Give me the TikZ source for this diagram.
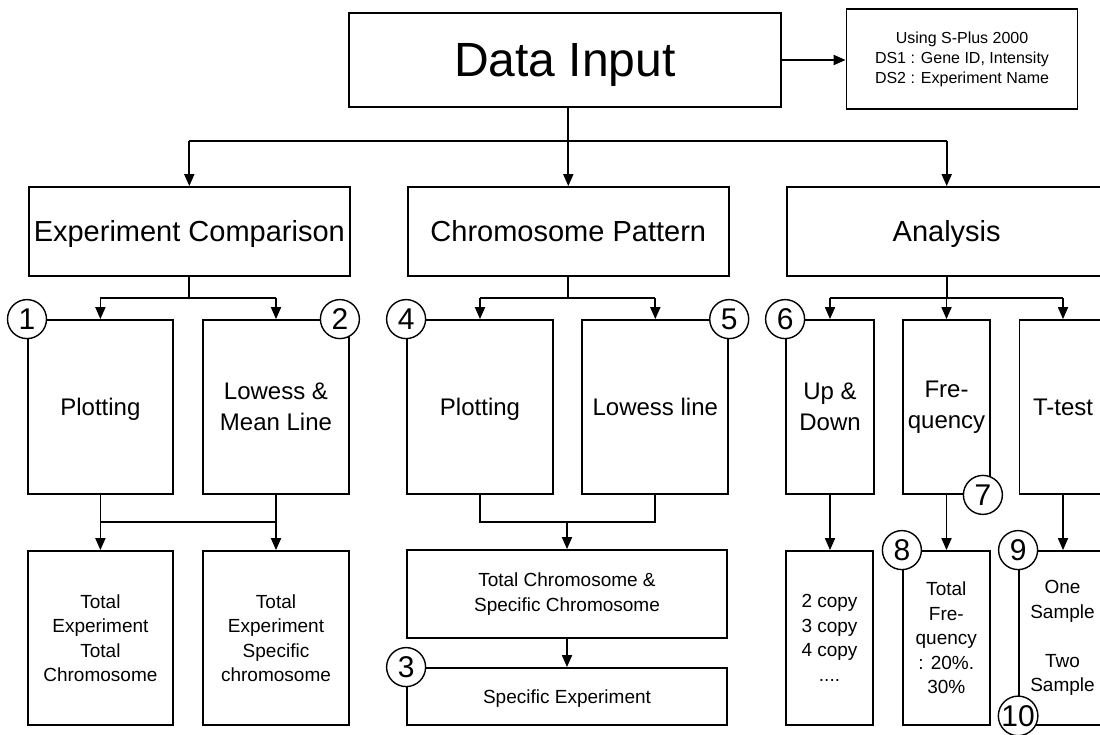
\documentclass[tikz,border=0pt]{standalone}
\usepackage{fontspec}
\setmainfont{Liberation Sans}
\usetikzlibrary{arrows.meta}

\begin{document}
\begin{tikzpicture}[x=1pt, y=-1pt, >={Triangle[width=10pt,length=12pt]}, line width=1.8pt,
	plainbox/.style={draw, rectangle, inner sep=0pt, align=center},
	titlebox/.style={plainbox, text height=34pt, text depth=0pt, font=\fontsize{48}{54}\selectfont},
	headbox/.style={plainbox, minimum height=89pt, text height=21pt, text depth=0pt, font=\fontsize{29}{33}\selectfont},
	tallbox/.style={plainbox, minimum height=174pt, font=\fontsize{24}{31}\selectfont},
	lowbox/.style={plainbox, font=\fontsize{19}{24.5}\selectfont},
	oneline/.style={text height=0.72*\pgfkeysvalueof{/tikz/linesize}, text depth=0pt},
	linesize/.initial=24pt,
	badge/.style={draw, circle, fill=white, inner sep=0pt, minimum size=39pt, line width=1.4pt, font=\fontsize{30}{33}\selectfont}]
	\useasboundingbox (0,0) rectangle (1100,735);
	\clip (0,0) rectangle (1100,735);

	% top row
	\node[titlebox, minimum width=432pt, minimum height=94pt] (din) at (565,60) {Data Input};
	\node[plainbox, minimum width=231pt, minimum height=100pt, font=\fontsize{16}{20}\selectfont] (info) at (962,59) {Using S-Plus 2000\\DS1 : Gene ID, Intensity\\DS2 : Experiment Name};
	\draw[->] (din.east) -- (din.east -| info.west);

	% three branches
	\node[headbox, minimum width=321pt] (ec) at (189.3,231.5) {Experiment Comparison};
	\node[headbox, minimum width=321pt] (cp) at (568.3,231.5) {Chromosome Pattern};
	\node[headbox, minimum width=319pt] (an) at (946.7,231.5) {Analysis};

	\coordinate (bus) at (568.3,141);
	\draw[->] (din.south -| cp.north) -- (cp.north);
	\draw (bus -| ec.north) -- (bus -| an.north);
	\draw[->] (bus -| ec.north) -- (ec.north);
	\draw[->] (bus -| an.north) -- (an.north);

	% methods
	\node[tallbox, oneline, minimum width=145pt] (pa) at (100.4,407) {Plotting};
	\node[tallbox, minimum width=146pt] (lm) at (276,407) {Lowess \&\\Mean Line};
	\node[tallbox, oneline, minimum width=146pt] (pb) at (480,407) {Plotting};
	\node[tallbox, oneline, minimum width=146pt] (ll) at (655.3,407) {Lowess line};
	\node[tallbox, minimum width=88pt] (ud) at (830,407) {Up \&\\Down};
	\node[tallbox, minimum width=87pt] (fq) at (946.5,407) {Fre-\\quency};
	\node[tallbox, oneline, minimum width=87pt] (tt) at (1063,407) {T-test};

	\coordinate (fork) at (0,298);
	\foreach \p/\l/\r in {ec/pa/lm, cp/pb/ll, an/ud/tt} {
		\draw (\p.south) -- (\p.south |- fork);
		\draw (fork -| \l.north) -- (fork -| \r.north);
		\draw[->] (fork -| \l.north) -- (\l.north);
		\draw[->] (fork -| \r.north) -- (\r.north);
	}
	\draw[->] (fork -| fq.north) -- (fq.north);

	% results
	\node[lowbox, minimum width=145pt, minimum height=174pt] (tet) at (100.4,638) {Total\\Experiment\\Total\\Chromosome};
	\node[lowbox, minimum width=146pt, minimum height=174pt] (tes) at (276,638) {Total\\Experiment\\Specific\\chromosome};
	\node[lowbox, minimum width=320pt, minimum height=88pt] (tcs) at (567,594) {Total Chromosome \&\\Specific Chromosome};
	\node[lowbox, oneline, linesize=19pt, minimum width=320pt, minimum height=57pt] (spx) at (567,696.5) {Specific Experiment};
	\node[lowbox, minimum width=87pt, minimum height=174pt] (cpy) at (829.5,638) {2 copy\\3 copy\\4 copy\\....};
	\node[lowbox, minimum width=87pt, minimum height=174pt] (tfq) at (946.3,638) {Total\\Fre-\\quency\\: 20\%.\\30\%};
	\node[lowbox, minimum width=87pt, minimum height=174pt] (smp) at (1062.5,638) {One\\Sample\\[24.5pt]Two\\Sample};

	\coordinate (join) at (0,522);
	\draw (join -| pa.south) -- (join -| lm.south);
	\draw[->] (pa.south) -- (pa.south |- tet.north);
	\draw[->] (lm.south) -- (lm.south |- tes.north);
	\draw (pb.south) -- (join -| pb.south) -- (join -| ll.south) -- (ll.south);
	\draw[->] (join -| tcs.north) -- (tcs.north);
	\draw[->] (tcs.south) -- (spx.north);
	\draw[->] (ud.south) -- (ud.south |- cpy.north);
	\draw[->] (fq.south) -- (fq.south |- tfq.north);
	\draw[->] (tt.south) -- (tt.south |- smp.north);

	% step numbers
	\node[badge] (n1) at (pa.north west) {1};
	\node[badge, xshift=-10pt] (n2) at (lm.north east) {2};
	\node[badge] (n3) at (spx.north west) {3};
	\node[badge] (n4) at (pb.north west) {4};
	\node[badge] (n5) at (ll.north east) {5};
	\node[badge] (n6) at (ud.north west) {6};
	\node[badge, xshift=-8pt] (n7) at (fq.south east) {7};
	\node[badge] (n8) at (tfq.north west) {8};
	\node[badge] (n9) at (smp.north west) {9};
	\node[badge, yshift=10pt] (n10) at (smp.south west) {10};
\end{tikzpicture}
\end{document}
